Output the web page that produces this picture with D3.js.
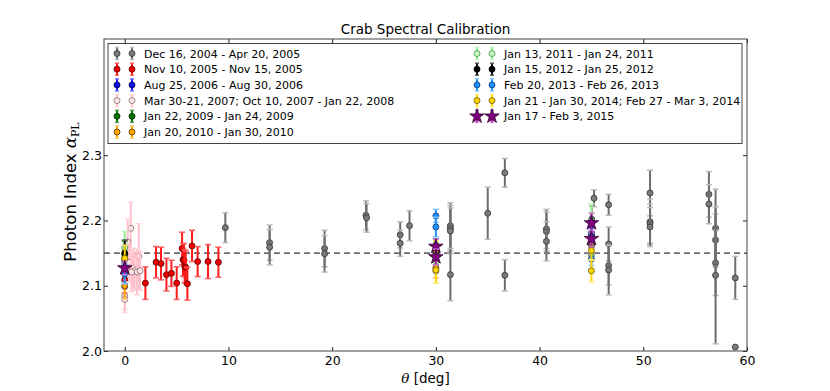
<!DOCTYPE html>
<html>
<head>
<meta charset="utf-8">
<script src="https://cdn.jsdelivr.net/npm/d3@7"></script>
<style>
  body { margin: 0; background: #fff; }
  text { font-family: "DejaVu Sans", sans-serif; }
</style>
</head>
<body>
<svg id="chart"></svg>
<script>
// Datos: [theta, indice, error]
const grayPts = [
  [0, 2.138, 0.02], [0, 2.133, 0.02], [0, 2.142, 0.02],
  [9.7, 2.189, 0.023],
  [13.97, 2.166, 0.027], [13.97, 2.159, 0.027],
  [19.27, 2.157, 0.028], [19.27, 2.149, 0.028],
  [23.26, 2.208, 0.022], [23.32, 2.204, 0.022],
  [26.56, 2.178, 0.02], [26.56, 2.165, 0.02],
  [27.46, 2.192, 0.023],
  [31.4, 2.192, 0.035], [31.4, 2.188, 0.035], [31.4, 2.184, 0.035], [31.4, 2.117, 0.04],
  [35.0, 2.211, 0.04],
  [36.65, 2.273, 0.022], [36.65, 2.116, 0.024],
  [40.66, 2.187, 0.03], [40.66, 2.183, 0.03], [40.66, 2.168, 0.03],
  [45.03, 2.202, 0.02],
  [45.25, 2.234, 0.013],
  [46.66, 2.224, 0.016], [46.66, 2.164, 0.026], [46.66, 2.131, 0.03], [46.66, 2.124, 0.038],
  [50.65, 2.242, 0.035], [50.65, 2.198, 0.035], [50.65, 2.195, 0.03], [50.65, 2.19, 0.03],
  [56.33, 2.24, 0.035], [56.33, 2.225, 0.03],
  [56.97, 2.188, 0.06], [56.97, 2.17, 0.04], [56.97, 2.135, 0.05], [56.97, 2.116, 0.105],
  [58.87, 2.112, 0.033], [58.87, 2.006, 0.0]
];
const redPts = [
  [0, 2.109, 0.02], [1.99, 2.104, 0.025], [3.02, 2.136, 0.024], [3.5, 2.134, 0.025],
  [4.02, 2.117, 0.025], [4.5, 2.119, 0.02], [5.01, 2.104, 0.025], [5.53, 2.157, 0.025],
  [5.62, 2.14, 0.025], [5.72, 2.139, 0.025], [5.78, 2.13, 0.025], [5.88, 2.128, 0.025],
  [6.04, 2.103, 0.025], [6.49, 2.161, 0.024], [7.03, 2.137, 0.023], [8.03, 2.137, 0.026],
  [9.03, 2.136, 0.023]
];
const bluePts = [[0, 2.12, 0.015], [30, 2.145, 0.01], [45, 2.176, 0.012]];
const pinkPts = [
  [0.58, 2.188, 0.04], [0.29, 2.167, 0.035], [0.42, 2.136, 0.03], [1.35, 2.145, 0.05],
  [0.8, 2.127, 0.03], [0.96, 2.123, 0.03], [1.19, 2.121, 0.035], [1.48, 2.123, 0.03],
  [0.65, 2.121, 0.03], [0, 2.098, 0.02], [0, 2.084, 0.02], [0, 2.079, 0.02],
  [30, 2.122, 0.01], [45, 2.147, 0.01]
];
const greenPts = [[0, 2.148, 0.02], [30, 2.15, 0.015], [45, 2.162, 0.015]];
const orangePts = [[0, 2.1, 0.02], [30, 2.127, 0.015], [45, 2.166, 0.015]];
const lightGreenPts = [[0, 2.158, 0.025], [30, 2.155, 0.02], [45, 2.2, 0.025]];
const blackPts = [[0, 2.15, 0.02], [30, 2.152, 0.02], [45, 2.18, 0.02]];
const dodgerPts = [[0, 2.118, 0.015], [30, 2.207, 0.01], [30, 2.19, 0.015], [45, 2.141, 0.01], [45, 2.18, 0.015]];
const goldPts = [[0, 2.142, 0.02], [30, 2.154, 0.015], [30, 2.124, 0.02], [45, 2.154, 0.015], [45, 2.123, 0.017]];
const starPts = [[0, 2.127, 0.01], [30, 2.16, 0.012], [30, 2.144, 0.012], [45, 2.196, 0.015], [45, 2.172, 0.012]];

const labels = [
  "Dec 16, 2004 - Apr 20, 2005",
  "Nov 10, 2005 - Nov 15, 2005",
  "Aug 25, 2006 - Aug 30, 2006",
  "Mar 30-21, 2007; Oct 10, 2007 - Jan 22, 2008",
  "Jan 22, 2009 - Jan 24, 2009",
  "Jan 20, 2010 - Jan 30, 2010",
  "Jan 13, 2011 - Jan 24, 2011",
  "Jan 15, 2012 - Jan 25, 2012",
  "Feb 20, 2013 - Feb 26, 2013",
  "Jan 21 - Jan 30, 2014; Feb 27 - Mar 3, 2014",
  "Jan 17 - Feb 3, 2015"
];
const refIndex = 2.15;
const xTicks = [0, 10, 20, 30, 40, 50, 60];
const yTicks = [2.0, 2.1, 2.2, 2.3];

// Estilos
const styles = [
  { fill: "#7a7a7a", stroke: "#333", ecolor: "#6e6e6e", cap: "#bbb" },
  { fill: "#ee0000", stroke: "#500", ecolor: "#ff1a1a", cap: "#ff5a5a" },
  { fill: "#1010ee", stroke: "#003", ecolor: "#2020ff", cap: "#7070ff" },
  { fill: "#fde6ea", stroke: "#8a6a70", ecolor: "#ffc0cb", cap: "#ffd6dd" },
  { fill: "#007700", stroke: "#020", ecolor: "#008000", cap: "#50a050" },
  { fill: "#ffa500", stroke: "#553300", ecolor: "#ffa500", cap: "#ffc860" },
  { fill: "#c8f5c8", stroke: "#339933", ecolor: "#90ee90", cap: "#b8f5b8" },
  { fill: "#000", stroke: "#000", ecolor: "#111", cap: "#555" },
  { fill: "#1e90ff", stroke: "#0a3a70", ecolor: "#1e90ff", cap: "#80c0ff" },
  { fill: "#ffd700", stroke: "#665500", ecolor: "#ffd700", cap: "#ffe870" },
  { fill: "#800080", stroke: "#2a002a", ecolor: "#a020a0", cap: "#d070d0", star: true }
];
const series = [grayPts, redPts, bluePts, pinkPts, greenPts, orangePts,
  lightGreenPts, blackPts, dodgerPts, goldPts, starPts];

const width = 830, height = 391;
const x0 = 104, x1 = 747, y0 = 39, y1 = 351;

const svg = d3.select("#chart").attr("width", width).attr("height", height);

const xScale = d3.scaleLinear().domain([-2, 60]).range([x0, x1]);
const yScale = d3.scaleLinear().domain([2.0, 2.478]).range([y1, y0]);

// Ejes
const axisStyle = g => {
  g.select(".domain").remove();
  g.selectAll("line").attr("stroke", "#222");
  g.selectAll("text").attr("font-size", 12.5).attr("fill", "#000");
};
svg.append("g").attr("transform", `translate(0,${y1})`)
  .call(d3.axisBottom(xScale).tickValues(xTicks).tickSize(-4).tickPadding(5).tickFormat(d3.format("d")))
  .call(axisStyle);
svg.append("g").attr("transform", `translate(0,${y0})`)
  .call(d3.axisTop(xScale).tickValues(xTicks).tickSize(-4).tickFormat(""))
  .call(axisStyle);
svg.append("g").attr("transform", `translate(${x0},0)`)
  .call(d3.axisLeft(yScale).tickValues(yTicks).tickSize(-4).tickPadding(2).tickFormat(d3.format(".1f")))
  .call(axisStyle);
svg.append("g").attr("transform", `translate(${x1},0)`)
  .call(d3.axisRight(yScale).tickValues(yTicks).tickSize(-4).tickFormat(""))
  .call(axisStyle);

// Linea de referencia
svg.append("line")
  .attr("x1", x0).attr("x2", x1)
  .attr("y1", yScale(refIndex)).attr("y2", yScale(refIndex))
  .attr("stroke", "#000").attr("stroke-width", 1).attr("stroke-dasharray", "6,4");

const star = d3.symbol().type(d3.symbolStar).size(65);

function drawPoint(g, cx, cy, top, bot, st, capW) {
  g.append("line").attr("x1", cx).attr("x2", cx).attr("y1", top).attr("y2", bot)
    .attr("stroke", st.ecolor).attr("stroke-width", 2);
  [top, bot].forEach(yy => g.append("line")
    .attr("x1", cx - capW).attr("x2", cx + capW).attr("y1", yy).attr("y2", yy)
    .attr("stroke", st.cap).attr("stroke-width", 1.5));
  if (st.star) {
    g.append("path").attr("d", star).attr("transform", `translate(${cx},${cy})`)
      .attr("fill", st.fill).attr("stroke", st.stroke).attr("stroke-width", 0.8);
  } else {
    g.append("circle").attr("cx", cx).attr("cy", cy).attr("r", 3)
      .attr("fill", st.fill).attr("stroke", st.stroke).attr("stroke-width", 0.8);
  }
}

// Puntos
const plot = svg.append("g");
series.forEach((pts, i) => {
  const g = plot.append("g");
  pts.forEach(d => {
    drawPoint(g, xScale(d[0]), yScale(d[1]), yScale(d[1] + d[2]), yScale(d[1] - d[2]), styles[i], 3);
  });
});

// Marco
svg.append("rect").attr("x", x0).attr("y", y0).attr("width", x1 - x0).attr("height", y1 - y0)
  .attr("fill", "none").attr("stroke", "#444").attr("stroke-width", 1);

// Leyenda
const legend = svg.append("g");
legend.append("rect").attr("x", 108).attr("y", 43.5).attr("width", 634).attr("height", 100)
  .attr("fill", "#fff").attr("stroke", "#444").attr("stroke-width", 1);
labels.forEach((lab, i) => {
  const col = i < 6 ? 0 : 1;
  const row = i < 6 ? i : i - 6;
  const mx = col === 0 ? 117 : 477;
  const ty = 53.5 + row * 15.7;
  const g = legend.append("g");
  [mx, mx + 15].forEach(cx => drawPoint(g, cx, ty, ty - 6, ty + 6, styles[i], 2));
  g.append("text").attr("x", col === 0 ? 144 : 504).attr("y", ty + 4)
    .attr("font-size", 11).text(lab);
});

// Titulos
svg.append("text").attr("x", (x0 + x1) / 2).attr("y", 34).attr("text-anchor", "middle")
  .attr("font-size", 13.5).text("Crab Spectral Calibration");

const yl = svg.append("text").attr("transform", `translate(76,192) rotate(-90)`)
  .attr("text-anchor", "middle").attr("font-size", 16.5);
yl.append("tspan").text("Photon Index ");
yl.append("tspan").attr("font-family", "DejaVu Serif").attr("font-style", "italic").text("α");
yl.append("tspan").attr("font-family", "DejaVu Serif").attr("font-size", 11).attr("dy", 3).text("PL");

const xl = svg.append("text").attr("x", (x0 + x1) / 2).attr("y", 383).attr("text-anchor", "middle")
  .attr("font-size", 13.5);
xl.append("tspan").attr("font-family", "DejaVu Serif").attr("font-style", "italic").text("θ");
xl.append("tspan").text(" [deg]");
</script>
</body>
</html>
